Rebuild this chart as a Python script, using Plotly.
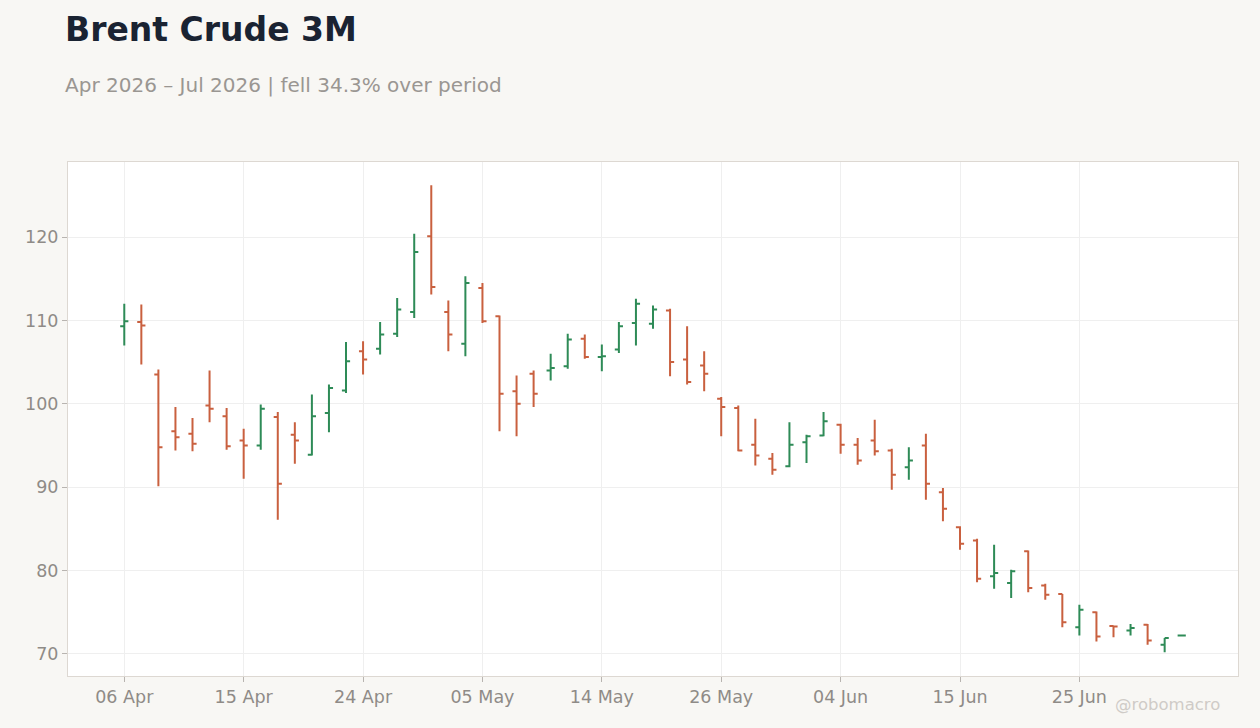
"""
Brent Crude, three months of daily OHLC bars.
"""

import pandas as pd
import plotly.graph_objects as go

# trading days (US calendar, holidays removed)
HOLIDAYS = ["2026-05-25", "2026-06-19", "2026-07-03"]
days = [
    d for d in pd.bdate_range("2026-04-06", "2026-07-06")
    if d.strftime("%Y-%m-%d") not in HOLIDAYS
]
dates = [d.strftime("%Y-%m-%d") for d in days]
tick_dates = dates[::7]
tick_labels = [d.strftime("%d %b") for d in days[::7]]

opens = [
    109.3, 109.8, 103.5, 96.7, 96.4, 99.8, 98.5, 95.6, 95.0, 98.4,
    96.3, 93.9, 98.9, 101.6, 106.3, 106.6, 108.4, 111.0, 120.1, 111.0,
    107.2, 113.9, 110.5, 101.5, 103.6, 104.0, 104.5, 107.8, 105.6, 106.5,
    109.7, 109.6, 111.2, 105.3, 104.6, 100.6, 99.5, 95.1, 93.4, 92.5,
    95.4, 96.2, 97.5, 95.1, 95.6, 94.4, 92.4, 95.0, 89.4, 85.2,
    83.6, 79.3, 78.5, 82.3, 78.2, 77.2, 73.2, 75.0, 73.35, 72.8,
    73.5, 71.1, 72.2,
]
highs = [
    112.0, 111.9, 104.1, 99.6, 98.3, 104.0, 99.5, 97.0, 99.9, 99.0,
    97.8, 101.1, 102.3, 107.4, 107.5, 109.8, 112.7, 120.4, 126.2, 112.4,
    115.3, 114.5, 110.6, 103.4, 104.0, 106.0, 108.4, 108.3, 107.1, 109.8,
    112.6, 111.8, 111.4, 109.3, 106.3, 100.8, 99.8, 98.2, 94.1, 97.8,
    96.3, 99.0, 97.6, 95.9, 98.1, 94.6, 94.8, 96.4, 89.9, 85.3,
    83.8, 83.1, 80.1, 82.4, 78.4, 77.2, 75.9, 75.1, 73.4, 73.6,
    73.6, 71.9, 72.25,
]
lows = [
    107.0, 104.7, 90.1, 94.4, 94.3, 97.8, 94.5, 91.0, 94.5, 86.1,
    92.8, 93.8, 96.6, 101.3, 103.5, 105.9, 108.0, 110.3, 113.1, 106.3,
    105.7, 109.7, 96.7, 96.1, 99.6, 102.8, 104.2, 105.4, 103.9, 106.1,
    107.0, 109.0, 103.3, 102.3, 101.5, 96.1, 94.3, 92.6, 91.5, 92.4,
    92.9, 96.1, 94.0, 92.7, 93.8, 89.7, 90.9, 88.5, 85.9, 82.5,
    78.6, 77.8, 76.7, 77.4, 76.5, 73.2, 72.2, 71.5, 72.0, 72.2,
    71.1, 70.2, 72.15,
]
closes = [
    109.9, 109.4, 94.8, 96.0, 95.2, 99.4, 94.9, 95.0, 99.4, 90.4,
    95.6, 98.5, 101.9, 105.1, 105.3, 108.3, 111.3, 118.2, 114.0, 108.3,
    114.5, 109.9, 101.2, 100.0, 101.2, 104.3, 107.7, 105.6, 105.7, 109.3,
    112.0, 111.3, 105.0, 102.6, 103.6, 99.6, 94.4, 93.8, 92.1, 95.1,
    96.1, 97.9, 95.1, 93.2, 94.3, 91.5, 93.2, 90.4, 87.4, 83.2,
    79.0, 79.7, 79.9, 77.9, 77.1, 73.8, 75.3, 72.1, 73.3, 73.1,
    71.6, 71.9, 72.22,
]

GREEN = "#2e8b57"
RED = "#c9603f"
GREY = "#8f8b87"

change = (closes[-1] / closes[0] - 1) * 100
subtitle = (
    f"Apr 2026 \u2013 Jul 2026 | "
    f"{'fell' if change < 0 else 'rose'} {abs(change):.1f}% over period"
)

fig = go.Figure(
    go.Ohlc(
        x=dates,
        open=opens,
        high=highs,
        low=lows,
        close=closes,
        increasing_line_color=GREEN,
        decreasing_line_color=RED,
        line_width=2,
        tickwidth=0.24,
        showlegend=False,
    )
)

fig.update_layout(
    width=1260,
    height=728,
    margin=dict(l=68, r=22, t=162, b=52),
    paper_bgcolor="#f8f7f4",
    plot_bgcolor="#ffffff",
    font=dict(family="DejaVu Sans", size=17.5, color=GREY),
    annotations=[
        dict(
            text="<b>Brent Crude 3M</b>",
            xref="paper", yref="paper", x=-0.0045, y=1.30,
            xanchor="left", yanchor="top", showarrow=False,
            font=dict(size=33, color="#1a2332"),
        ),
        dict(
            text=subtitle,
            xref="paper", yref="paper", x=-0.0045, y=1.150,
            xanchor="left", yanchor="middle", showarrow=False,
            font=dict(size=20, color="#9a9692"),
        ),
        dict(
            text="@robomacro",
            xref="paper", yref="paper", x=0.986, y=-0.056,
            xanchor="right", yanchor="middle", showarrow=False,
            font=dict(size=16.5, color="#cfcbc7"),
        ),
    ],
)
fig.update_xaxes(
    type="category",
    range=[-3.3, 65.3],
    tickvals=tick_dates,
    ticktext=tick_labels,
    ticks="outside",
    ticklen=5,
    tickcolor="#b8b4b0",
    showgrid=True,
    gridcolor="#efefef",
    showline=True,
    linecolor="#ddd8d2",
    mirror=True,
    rangeslider_visible=False,
)
fig.update_yaxes(
    range=[67.35, 129.0],
    dtick=10,
    ticks="outside",
    ticklen=5,
    tickcolor="#b8b4b0",
    showgrid=True,
    gridcolor="#efefef",
    showline=True,
    linecolor="#ddd8d2",
    mirror=True,
    zeroline=False,
)

fig.write_html(
    "out.html",
    config={"displayModeBar": False},
    post_script="document.body.style.margin = '0';",
)
